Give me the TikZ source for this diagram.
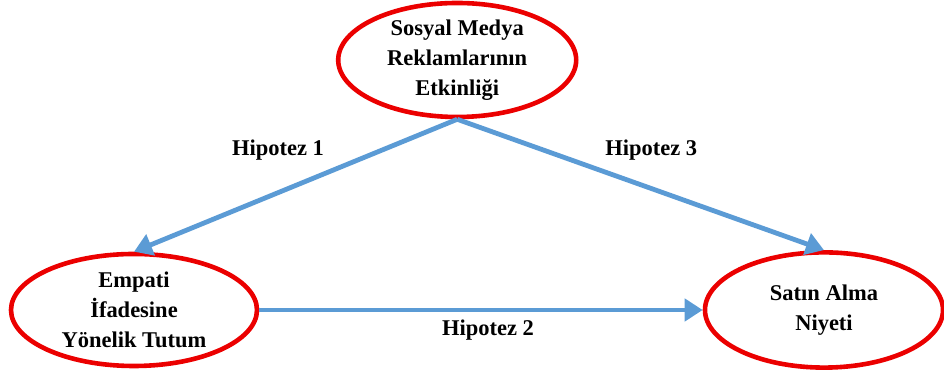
\documentclass[tikz,border=0pt]{standalone}
\usepackage{fontspec}
\setmainfont{Liberation Serif}
\usetikzlibrary{shapes.geometric,arrows.meta}
\definecolor{okmavi}{RGB}{91,155,213}
\definecolor{kirmizi}{RGB}{235,0,0}

\begin{document}
\begin{tikzpicture}[
  konu/.style={draw=kirmizi, line width=1.15mm, ellipse, inner sep=-3pt, align=center,
    font=\fontsize{16}{21.5}\selectfont\bfseries},
  ok/.style={draw=okmavi, line width=1.2mm, -{Triangle[length=4.5mm,width=5.5mm]}},
  etiket/.style={font=\fontsize{16}{21.5}\selectfont\bfseries}
]
\useasboundingbox (0,0) rectangle (23.6,9.25);
% ellipses
\node[konu, minimum width=5.95cm, minimum height=2.85cm] (reklam) at (11.43,7.75) {Sosyal Medya\\Reklamlarının\\Etkinliği};
\node[konu, minimum width=6.15cm, minimum height=2.8cm] (tutum) at (3.35,1.5) {Empati\\İfadesine\\Yönelik Tutum};
\node[konu, minimum width=5.95cm, minimum height=2.88cm] (niyet) at (20.6,1.5) {Satın Alma\\Niyeti};
% arrows
\draw[ok] (reklam.south) -- (tutum.north);
\draw[ok] (reklam.south) -- (niyet.north);
\draw[ok] (tutum.east) -- (niyet.west);
% labels
\node[etiket] (h1) at (6.95,5.5) {Hipotez 1};
\node[etiket] (h3) at (16.28,5.5) {Hipotez 3};
\node[etiket] (h2) at (12.2,1.0) {Hipotez 2};
\end{tikzpicture}
\end{document}
